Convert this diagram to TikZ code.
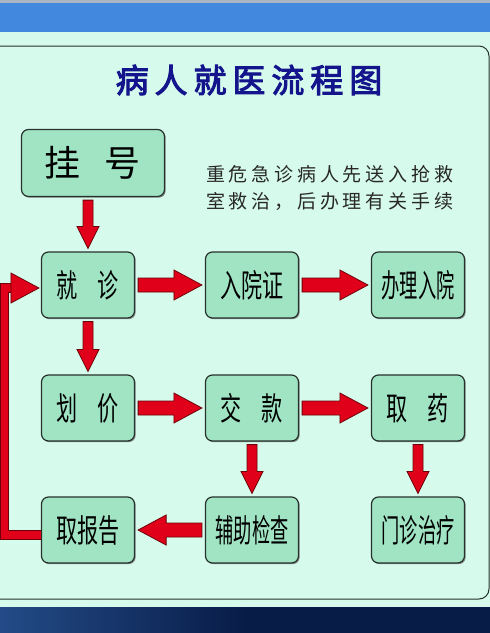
\documentclass[tikz,border=0pt]{standalone}
\usepackage{fontspec}
\usepackage{tikz}
\usetikzlibrary{calc,shadows}
\newfontfamily\cjk{Noto Sans CJK SC}
\newfontfamily\cjkn[FakeStretch=0.66]{Noto Sans CJK SC}
\newfontfamily\cjknn[FakeStretch=0.57]{Noto Sans CJK SC}
\newfontfamily\cjkt[FakeBold=3,LetterSpace=18]{Noto Sans CJK SC}
\newfontfamily\cjks[LetterSpace=20]{Noto Sans CJK SC}
\definecolor{bgmint}{RGB}{214,250,235}
\definecolor{boxfill}{RGB}{160,228,196}
\definecolor{boxline}{RGB}{40,50,45}
\definecolor{titleblue}{RGB}{20,20,140}
\definecolor{notegrey}{RGB}{40,40,40}
\definecolor{arrowred}{RGB}{225,0,25}
\definecolor{arrowdark}{RGB}{110,0,10}
\definecolor{bandblue}{RGB}{66,136,222}
\definecolor{topgrey}{RGB}{170,180,195}
\definecolor{navy}{RGB}{8,28,72}
\definecolor{navylight}{RGB}{35,75,135}
\tikzset{
  flowbox/.style={draw=boxline, line width=1.2pt, fill=boxfill, rounded corners=7pt,
    minimum width=93pt, minimum height=66pt, inner sep=0pt,
    drop shadow={shadow xshift=1.2pt, shadow yshift=-1.2pt, fill=black!55, opacity=0.8},
    font=\cjkn\fontsize{32}{32}\selectfont},
  flowboxfour/.style={flowbox, font=\cjknn\fontsize{32}{32}\selectfont},
  fatarrow/.style={draw=arrowdark, line width=0.8pt, fill=arrowred, line join=miter},
  loopline/.style={draw=arrowdark, line width=0.8pt, double=arrowred, double distance=7.5pt}
}
\newcommand\fatarrow[5]{%
  \coordinate (fa-s) at ($(#1)!3pt!(#2)$);
  \coordinate (fa-t) at ($(#2)!3pt!(#1)$);
  \coordinate (fa-h) at ($(fa-t)!#5!(fa-s)$);
  \draw[fatarrow] ($(fa-s)!#3!90:(fa-t)$) -- ($(fa-h)!#3!-90:(fa-s)$) -- ($(fa-h)!#4!-90:(fa-s)$)
    -- (fa-t) -- ($(fa-h)!#4!90:(fa-s)$) -- ($(fa-h)!#3!90:(fa-s)$) -- ($(fa-s)!#3!-90:(fa-t)$) -- cycle;
}
\begin{document}
\begin{tikzpicture}[x=1pt,y=-1pt]
\useasboundingbox (0,0) rectangle (490,633);
\fill[bgmint] (0,0) rectangle (490,633);
\fill[topgrey] (0,0) rectangle (490,3);
\fill[bandblue] (0,3) rectangle (490,32);
\shade[left color=navylight, right color=navy, middle color=navy] (0,607) rectangle (490,633);
\draw[boxline, line width=1pt, rounded corners=10pt] (-12,46) rectangle (489,599);
\node[text=titleblue, font=\cjkt\fontsize{33}{33}\selectfont] (title) at (249,80) {病人就医流程图};
\node[text=notegrey, font=\cjks\fontsize{19}{27}\selectfont, align=left, anchor=north west, inner sep=0pt] (note) at (206,165)
  {重危急诊病人先送入抢救\\室救治，后办理有关手续};
\node[flowbox, minimum width=143pt, minimum height=67pt, font=\cjk\fontsize{36}{36}\selectfont] (gh) at (93,163) {挂\hspace{24pt}号};
\node[flowbox] (jz) at (88,285) {就\hspace{20pt}诊};
\node[flowbox] (ryz) at (252,285) {入院证};
\node[flowboxfour] (blry) at (418,285) {办理入院};
\node[flowbox] (hj) at (88,408) {划\hspace{20pt}价};
\node[flowbox] (jk) at (252,408) {交\hspace{20pt}款};
\node[flowbox] (qy) at (418,408) {取\hspace{20pt}药};
\node[flowbox] (qbg) at (88,530) {取报告};
\node[flowboxfour] (fzjc) at (252,530) {辅助检查};
\node[flowboxfour] (mzzl) at (418,530) {门诊治疗};
\fatarrow{gh.south -| jz.north}{jz.north}{5pt}{11pt}{22pt}
\fatarrow{jz.south}{hj.north}{5pt}{11pt}{22pt}
\fatarrow{jk.south}{fzjc.north}{5pt}{11pt}{22pt}
\fatarrow{qy.south}{mzzl.north}{5pt}{11pt}{22pt}
\fatarrow{jz.east}{ryz.west}{7pt}{15pt}{28pt}
\fatarrow{ryz.east}{blry.west}{7pt}{15pt}{28pt}
\fatarrow{hj.east}{jk.west}{7pt}{15pt}{28pt}
\fatarrow{jk.east}{qy.west}{7pt}{15pt}{28pt}
\fatarrow{fzjc.west}{qbg.east}{7pt}{15pt}{28pt}
\coordinate (lp) at (4.5,535);
\coordinate (lt) at ($(jz.west)+(-2,3)$);
\coordinate (lh) at ($(lt)+(-28,0)$);
\draw[loopline] ($(qbg.west)+(0,5)$) -- (lp) |- ($(lh)+(1,0)$);
\draw[fatarrow] ($(lh)+(0,-15)$) -- (lt) -- ($(lh)+(0,15)$) -- cycle;
\end{tikzpicture}
\end{document}
